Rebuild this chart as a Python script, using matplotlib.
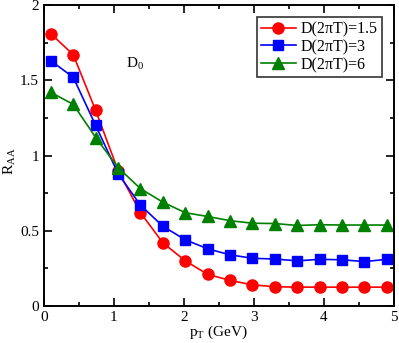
import matplotlib
matplotlib.use("Agg")
import matplotlib.pyplot as plt
from matplotlib.ticker import MultipleLocator

plt.rcParams['font.family'] = ['Liberation Serif', 'DejaVu Serif']
plt.rcParams['mathtext.fontset'] = 'custom'
plt.rcParams['mathtext.rm'] = 'Liberation Serif'
plt.rcParams['mathtext.it'] = 'Liberation Serif'

pt = [0.1, 0.42, 0.74, 1.06, 1.38, 1.7, 2.02, 2.34, 2.66, 2.98, 3.3, 3.62, 3.94, 4.26, 4.58, 4.9]
raa_15 = [1.81, 1.67, 1.30, 0.90, 0.62, 0.42, 0.30, 0.21, 0.17, 0.14, 0.128, 0.125, 0.125, 0.125, 0.125, 0.125]
raa_3 = [1.63, 1.52, 1.20, 0.88, 0.67, 0.53, 0.44, 0.38, 0.34, 0.317, 0.312, 0.30, 0.31, 0.307, 0.295, 0.31]
raa_6 = [1.42, 1.34, 1.12, 0.92, 0.78, 0.69, 0.62, 0.595, 0.567, 0.55, 0.548, 0.535, 0.54, 0.538, 0.538, 0.538]
labels = ["D(2\u03c0T)=1.5", "D(2\u03c0T)=3", "D(2\u03c0T)=6"]

fig = plt.figure(figsize=(3.99, 3.43), dpi=100)
ax = fig.add_axes([0.110, 0.108, 0.877, 0.877])

ax.plot(pt, raa_15, '-o', color='red', mfc='red', mec='red', ms=8, lw=1.2, label=labels[0])
ax.plot(pt, raa_3, '-s', color='blue', mfc='blue', mec='blue', ms=7, lw=1.2, label=labels[1])
ax.plot(pt, raa_6, '-^', color='green', mfc='green', mec='green', ms=8, lw=1.2, label=labels[2])

ax.set_xlim(0, 5)
ax.set_ylim(0, 2)
ax.xaxis.set_major_locator(MultipleLocator(1))
ax.xaxis.set_minor_locator(MultipleLocator(0.5))
ax.yaxis.set_major_locator(MultipleLocator(0.5))
ax.yaxis.set_minor_locator(MultipleLocator(0.25))
ax.tick_params(which='both', direction='in', top=True, right=True, labelsize=11, width=1.2)
ax.tick_params(which='major', length=6)
ax.tick_params(which='minor', length=3)
ax.yaxis.set_major_formatter(plt.FuncFormatter(lambda v, p: ('%g' % v)))
for s in ax.spines.values():
    s.set_linewidth(1.4)

ax.set_xlabel(r'p$_\mathrm{T}$ (GeV)', fontsize=11, labelpad=0)
ax.set_ylabel(r'R$_\mathrm{AA}$', fontsize=11)
ax.yaxis.set_label_coords(-0.075, 0.48)
ax.text(1.18, 1.58, r'D$_\mathrm{0}$', fontsize=11)

leg = ax.legend(loc='upper right', fontsize=11.5, frameon=True, fancybox=False,
                edgecolor='black', handlelength=2.2, handletextpad=0.3,
                borderpad=0.25, labelspacing=0.12, borderaxespad=0.75)
leg.get_frame().set_linewidth(1.2)

fig.savefig('out.png', dpi=100)
